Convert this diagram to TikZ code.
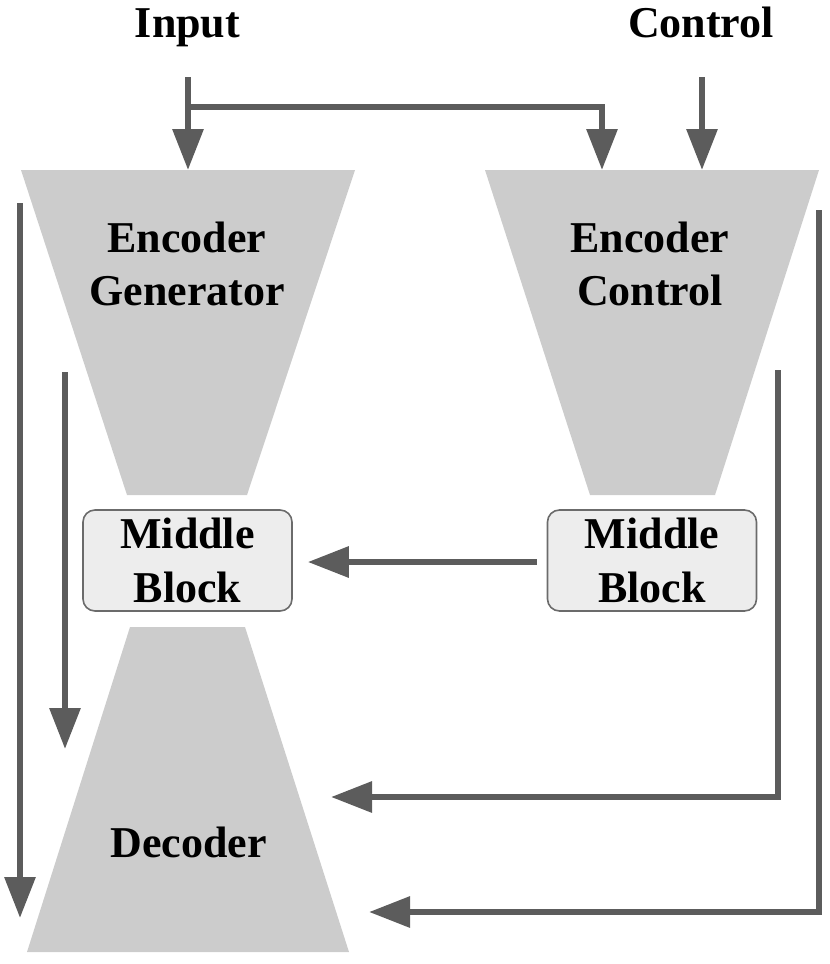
\documentclass[tikz,border=0pt]{standalone}
\usepackage{fontspec}
\setmainfont{Liberation Serif}
\usetikzlibrary{arrows.meta}
\definecolor{arr}{HTML}{5C5C5C}
\definecolor{trap}{HTML}{CCCCCC}
\definecolor{mbfill}{HTML}{EDEDED}
\definecolor{mbdraw}{HTML}{6B6B6B}
\begin{document}
\begin{tikzpicture}[x=1bp,y=-1bp,
  lbl/.style={font=\fontsize{44bp}{53bp}\selectfont\bfseries, align=center, inner sep=0pt},
  conn/.style={draw=arr, line width=6.2bp, -{Triangle[length=41bp,width=30bp]}},
  mblock/.style={draw=mbdraw, line width=1.6bp, fill=mbfill, rounded corners=12bp,
    minimum width=209bp, minimum height=101bp, inner sep=0pt,
    font=\fontsize{44bp}{54bp}\selectfont\bfseries, align=center},
  trapfill/.style={fill=trap}]
\useasboundingbox (0,0) rectangle (830,964);

% shapes
\fill[trapfill] (21,170) -- (355,170) -- (247,495) -- (127,495) -- cycle;
\fill[trapfill] (485,170) -- (819,170) -- (715,495) -- (590,495) -- cycle;
\fill[trapfill] (130,627) -- (245,627) -- (349,952) -- (27,952) -- cycle;

% labels
\node[lbl, anchor=base] (input) at (187.5,37) {Input};
\node[lbl, anchor=base] (control) at (701,37) {Control};
\node[lbl] (encgen) at (187,263.5) {Encoder\\Generator};
\node[lbl] (encctl) at (650,263.5) {Encoder\\Control};
\node[lbl, anchor=base] (decoder) at (188.5,857) {Decoder};
\node[mblock] (mbl) at (187.5,560.5) {Middle\\Block};
\node[mblock] (mbr) at (652,560.5) {Middle\\Block};

% connector points
\coordinate (inS) at (188,77);
\coordinate (inT) at (188,170);
\coordinate (brS) at (188,107);
\coordinate (brC) at (602,107);
\coordinate (brT) at (602,170);
\coordinate (ctS) at (702,77);
\coordinate (ctT) at (702,170);
\coordinate (loS) at (20,203);
\coordinate (loT) at (20,918);
\coordinate (liS) at (65,372);
\coordinate (liT) at (65,749);
\coordinate (riS) at (778,370);
\coordinate (riC) at (778,797);
\coordinate (riT) at (331,797);
\coordinate (roS) at (819,210);
\coordinate (roC) at (819,912);
\coordinate (roT) at (369,912);

% connectors
\draw[conn] (inS) -- (inT);
\draw[conn] (brS) -- (brC) -- (brT);
\draw[conn] (ctS) -- (ctT);
\draw[conn] (loS) -- (loT);
\draw[conn] (liS) -- (liT);
\draw[conn, shorten <=10bp, shorten >=15bp, transform canvas={yshift=-1.5bp}] (mbr.west) -- (mbl.east);
\draw[conn] (riS) -- (riC) -- (riT);
\draw[conn] (roS) -- (roC) -- (roT);
\end{tikzpicture}
\end{document}
